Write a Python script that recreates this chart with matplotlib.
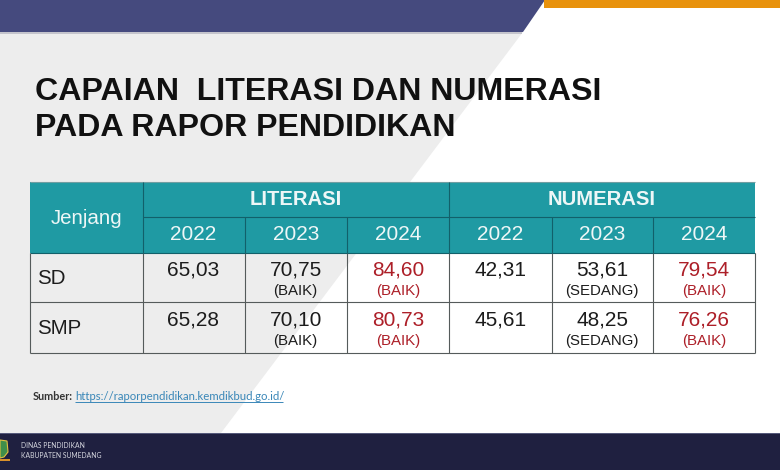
import matplotlib
matplotlib.use("Agg")
import matplotlib.pyplot as plt
from matplotlib.patches import Polygon, Rectangle

plt.rcParams["font.family"] = ["Liberation Sans", "DejaVu Sans"]
plt.rcParams["lines.solid_capstyle"] = "butt"

jenjang = ["SD", "SMP"]
groups = ["LITERASI", "NUMERASI"]
years = ["2022", "2023", "2024"]
values = [
    ["65,03", "70,75", "84,60", "42,31", "53,61", "79,54"],
    ["65,28", "70,10", "80,73", "45,61", "48,25", "76,26"],
]
status = [
    ["", "(BAIK)", "(BAIK)", "", "(SEDANG)", "(BAIK)"],
    ["", "(BAIK)", "(BAIK)", "", "(SEDANG)", "(BAIK)"],
]

TEAL = "#1f9aa3"
RED = "#ad1f28"
INK = "#1c1c1c"

# layout in pixels of the slide
col_x = [30, 142.5, 244.5, 347, 449, 551.5, 653, 755]
row_y = [182, 216.5, 252.5, 302, 352.5]

fig = plt.figure(figsize=(7.8, 4.7), dpi=100)
ax = fig.add_axes([0, 0, 1, 1])
ax.set_xlim(0, 780)
ax.set_ylim(470, 0)
ax.axis("off")

# background shapes
ax.add_patch(Polygon([(0, 32), (523, 32), (221, 433), (0, 433)], fc="#ededed", ec="none"))
ax.add_patch(Rectangle((0, 32), 522, 1.6, fc="#c4c4cc", ec="none"))
ax.add_patch(Polygon([(0, 0), (545, 0), (523, 32), (0, 32)], fc="#454a7e", ec="none"))
ax.add_patch(Rectangle((544, 0), 236, 8, fc="#e8920c", ec="none"))
ax.add_patch(Rectangle((0, 433), 780, 37, fc="#1f2040", ec="none"))
ax.add_patch(Rectangle((0, 433), 780, 1, fc="#55597a", ec="none"))

# logo at the left edge of the footer
ax.add_patch(Polygon([(0, 440), (7, 441), (8, 452), (4, 457), (0, 458)], fc="#3f8f4a", ec="#e0c040", lw=0.8))
ax.add_patch(Rectangle((0, 459), 10, 2, fc="#d8902a", ec="none"))

# title
ax.text(35, 92, "CAPAIAN  LITERASI DAN NUMERASI", fontsize=23.1, fontweight="bold",
        color="#111111", va="center", ha="left")
ax.text(35, 128.5, "PADA RAPOR PENDIDIKAN", fontsize=23.1, fontweight="bold",
        color="#111111", va="center", ha="left")

# table header
ax.add_patch(Rectangle((col_x[0], row_y[0]), col_x[-1] - col_x[0], row_y[2] - row_y[0],
                       fc=TEAL, ec="none"))
ax.text((col_x[0] + col_x[1]) / 2, 219, "Jenjang", fontsize=14.8, color="#eef7f7",
        ha="center", va="center")
for g, name in enumerate(groups):
    left, right = col_x[1 + 3 * g], col_x[4 + 3 * g]
    ax.text((left + right) / 2, (row_y[0] + row_y[1]) / 2 + 0.5, name, fontsize=14.6,
            fontweight="bold", color="#eef7f7", ha="center", va="center")
    for y, year in enumerate(years):
        c = 1 + 3 * g + y
        ax.text((col_x[c] + col_x[c + 1]) / 2, (row_y[1] + row_y[2]) / 2 + 0.5, year,
                fontsize=15, color="#eef7f7", ha="center", va="center")

# table body
for r, name in enumerate(jenjang):
    top = row_y[2 + r]
    ax.text(37, top + 26, name, fontsize=14.8, color=INK, ha="left", va="center")
    for c in range(6):
        cx = (col_x[c + 1] + col_x[c + 2]) / 2
        color = RED if c % 3 == 2 else INK
        ax.text(cx, top + 17.5, values[r][c], fontsize=15, color=color, ha="center", va="center")
        if status[r][c]:
            ax.text(cx, top + 38.5, status[r][c], fontsize=10.8, color=color,
                    ha="center", va="center")

# table lines
HEAD_LINE = "#12606a"
BODY_LINE = "#555b5b"
ax.plot([col_x[1], col_x[-1]], [row_y[1], row_y[1]], color=HEAD_LINE, lw=0.8)
ax.plot([col_x[0], col_x[-1]], [row_y[2], row_y[2]], color=HEAD_LINE, lw=0.8)
ax.plot([col_x[0], col_x[-1]], [row_y[0], row_y[0]], color="#6f9ea2", lw=0.8)
for yy in row_y[3:]:
    ax.plot([col_x[0], col_x[-1]], [yy, yy], color=BODY_LINE, lw=0.8)
for i, xx in enumerate(col_x):
    ax.plot([xx, xx], [row_y[2], row_y[4]], color=BODY_LINE, lw=0.8)
    if i in (1, 4):
        ax.plot([xx, xx], [row_y[0], row_y[2]], color=HEAD_LINE, lw=0.8)
    elif i not in (0, 7):
        ax.plot([xx, xx], [row_y[1], row_y[2]], color=HEAD_LINE, lw=0.8)

# source
ax.text(33, 396, "Sumber:", fontsize=7.8, family="Lato", fontweight="bold", color="#333333",
        ha="left", va="center")
ax.text(75, 396, "https://raporpendidikan.kemdikbud.go.id/", fontsize=8.2,
        family="Lato", color="#3a87b8", ha="left", va="center")
ax.plot([75, 283], [401.5, 401.5], color="#3a87b8", lw=0.7)

# footer
ax.text(21, 446, "DINAS PENDIDIKAN", fontsize=4.9, family="Lato", color="#d5d6de",
        ha="left", va="center")
ax.text(21, 456, "KABUPATEN SUMEDANG", fontsize=4.9, family="Lato", color="#d5d6de",
        ha="left", va="center")

fig.savefig("out.png", dpi=100, facecolor="white")
